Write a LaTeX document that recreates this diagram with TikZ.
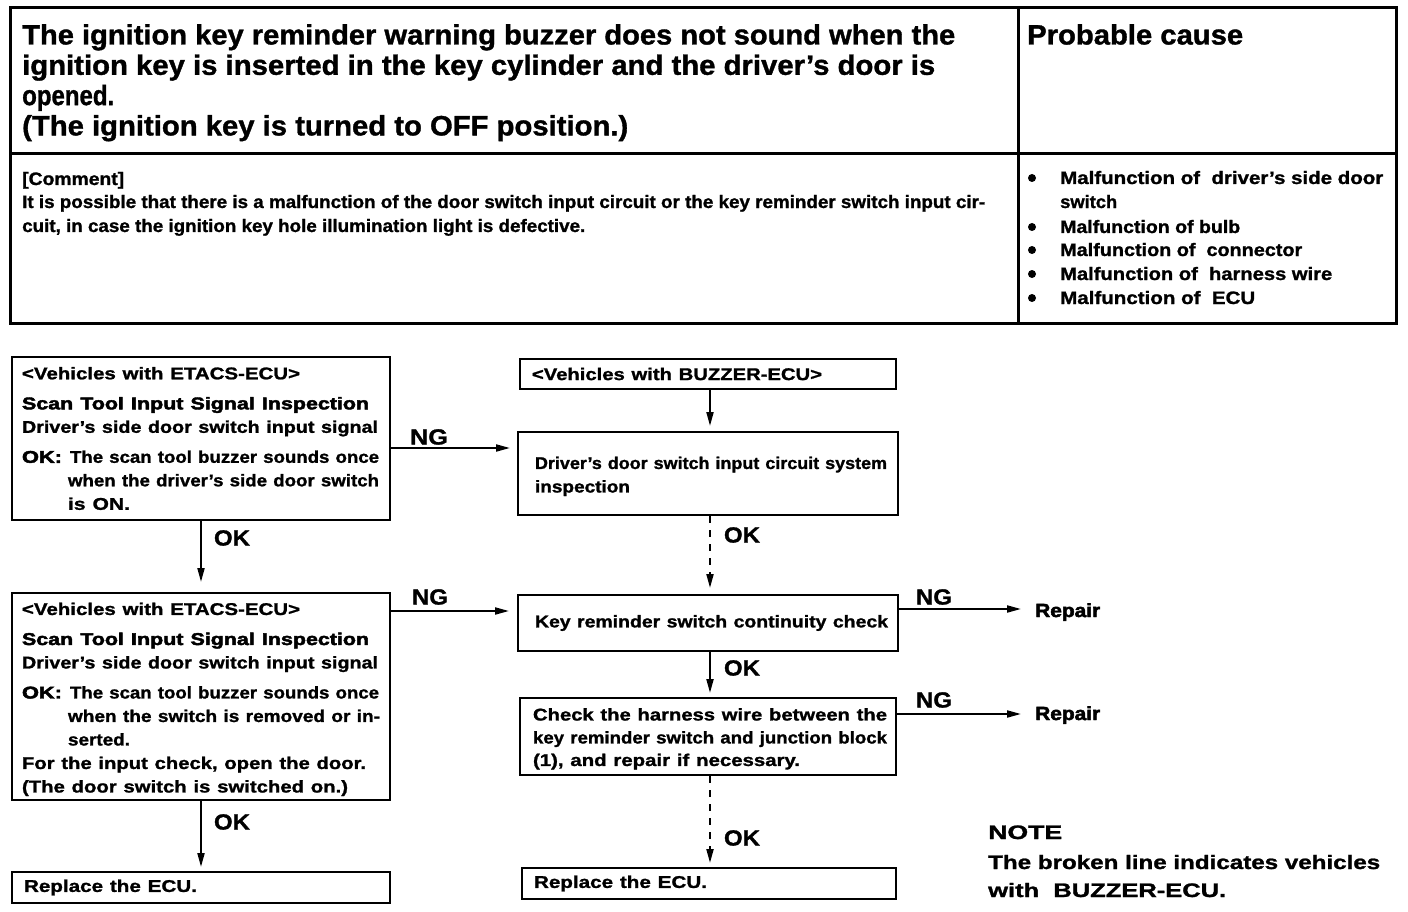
\documentclass[tikz,border=0pt]{standalone}
\usepackage{graphicx}
\usepackage{fontspec}
\setmainfont{Liberation Sans}[BoldFeatures={FakeBold=1.2}]
\newfontfamily\heavy{Liberation Sans Bold}[FakeBold=2.5]
\usetikzlibrary{arrows.meta}
\newcommand\fw[2]{\resizebox{#1pt}{\height}{#2}}
\begin{document}
\begin{tikzpicture}[x=1pt,y=-1pt,
  box/.style={draw, line width=2pt, inner ysep=0pt, align=left,
    font=\fontsize{17}{23.5}\selectfont\bfseries},
  arr/.style={line width=2pt, -{Triangle[length=14pt,width=7pt]}},
  darr/.style={arr, dash pattern=on 7pt off 7pt},
  lbl/.style={inner sep=0pt, font=\fontsize{22}{22}\selectfont\bfseries},
  ttl/.style={inner sep=0pt, anchor=base west, font=\fontsize{28}{30}\selectfont\bfseries},
  cmt/.style={inner sep=0pt, anchor=base west, font=\fontsize{18}{20}\selectfont\bfseries},
  dot/.style={fill=black},
  note/.style={inner sep=0pt, anchor=base west, font=\fontsize{19.5}{22}\selectfont\bfseries},
  rep/.style={inner sep=0pt, anchor=base west, font=\fontsize{19}{22}\selectfont\heavy}]
\useasboundingbox (0,0) rectangle (1408,912);
\fill[white] (0,0) rectangle (1408,912);
% ---------- top table ----------
\draw[line width=3pt] (10,8) rectangle (1396,323);
\draw[line width=3pt] (1018,8) -- (1018,323);
\draw[line width=3pt] (10,154) -- (1396,154);
\node[ttl] (t1) at (22,44.5) {\fw{933}{The ignition key reminder warning buzzer does not sound when the}};
\node[ttl] (t2) at (22,74.8) {\fw{913}{ignition key is inserted in the key cylinder and the driver's door is}};
\node[ttl] (t3) at (22,105.1) {\fw{92}{opened.}};
\node[ttl] (t4) at (22,135.4) {\fw{606}{(The ignition key is turned to OFF position.)}};
\node[ttl] (pc) at (1027,44.5) {\fw{216}{Probable cause}};
\node[cmt] (c1) at (22,185) {\fw{102}{[Comment]}};
\node[cmt] (c2) at (22,208) {\fw{963}{It is possible that there is a malfunction of the door switch input circuit or the key reminder switch input cir-}};
\node[cmt] (c3) at (22,232) {\fw{563}{cuit, in case the ignition key hole illumination light is defective.}};
\fill[dot] (1032,178) circle (4);
\node[cmt] (p1) at (1060,184) {\fw{323}{Malfunction of\ \ driver's side door}};
\node[cmt] (p1b) at (1060,208) {\fw{57}{switch}};
\fill[dot] (1032,227) circle (4);
\node[cmt] (p2) at (1060,233) {\fw{180}{Malfunction of bulb}};
\fill[dot] (1032,250) circle (4);
\node[cmt] (p3) at (1060,256) {\fw{242}{Malfunction of\ \ connector}};
\fill[dot] (1032,274) circle (4);
\node[cmt] (p4) at (1060,280) {\fw{272}{Malfunction of\ \ harness wire}};
\fill[dot] (1032,298) circle (4);
\node[cmt] (p5) at (1060,304) {\fw{195}{Malfunction of\ \ ECU}};
% ---------- flowchart boxes ----------
\node[box, minimum width=378pt, minimum height=163pt, inner xsep=10pt, text width=358pt] (B1) at (201,438.5) {%
\fw{278}{<Vehicles with ETACS-ECU>}\\[6.5pt]
\fw{347}{\heavy Scan Tool Input Signal Inspection}\\
\fw{356}{Driver's side door switch input signal}\\[6.5pt]
\makebox[48pt][l]{\fw{40}{\heavy OK:}}\fw{309}{The scan tool buzzer sounds once}\\
\hspace*{46pt}\fw{311}{when the driver's side door switch}\\
\hspace*{46pt}\fw{62}{is ON.}};
\node[box, minimum width=376pt, minimum height=30pt, inner xsep=12pt, text width=352pt] (B2) at (708,374) {%
\fw{290}{<Vehicles with BUZZER-ECU>}};
\node[box, minimum width=380pt, minimum height=83pt, inner xsep=17pt, text width=346pt] (B3) at (708,473.5) {%
\rule{0pt}{18pt}\fw{352}{Driver's door switch input circuit system}\\
\fw{95}{inspection}};
\node[box, minimum width=378pt, minimum height=207pt, inner xsep=10pt, text width=358pt] (B4) at (201,696.5) {%
\rule{0pt}{18pt}\fw{278}{<Vehicles with ETACS-ECU>}\\[6.5pt]
\fw{347}{\heavy Scan Tool Input Signal Inspection}\\
\fw{356}{Driver's side door switch input signal}\\[6.5pt]
\makebox[48pt][l]{\fw{40}{\heavy OK:}}\fw{309}{The scan tool buzzer sounds once}\\
\hspace*{46pt}\fw{312}{when the switch is removed or in-}\\
\hspace*{46pt}\fw{62}{serted.}\\
\fw{344}{For the input check, open the door.}\\
\fw{326}{(The door switch is switched on.)}};
\node[box, minimum width=380pt, minimum height=56pt, inner xsep=17pt, text width=346pt] (B5) at (708,623) {%
\fw{353}{Key reminder switch continuity check}};
\node[box, minimum width=376pt, minimum height=77pt, inner xsep=13pt, text width=350pt] (B6) at (708,736.5) {%
\rule{0pt}{17pt}\fw{354}{Check the harness wire between the}\\[-0.5pt]
\fw{354}{key reminder switch and junction block}\\[-1pt]
\fw{267}{(1), and repair if necessary.}};
\node[box, minimum width=378pt, minimum height=31pt, inner xsep=12pt, text width=354pt] (B7) at (201,887.5) {%
\fw{173}{Replace the ECU.}};
\node[box, minimum width=374pt, minimum height=31pt, inner xsep=12pt, text width=350pt] (B8) at (709,883.5) {%
\fw{173}{Replace the ECU.}};
% ---------- repair ----------
\node[rep] (R1) at (1035,617) {\fw{65}{Repair}};
\node[rep] (R2) at (1035,720) {\fw{65}{Repair}};
% ---------- connectors ----------
\draw[arr, shorten >=7pt] ([yshift=-9.5pt]B1.east) coordinate (n1) -- (n1 -| B3.west);
\draw[arr, shorten >=8pt] ([yshift=85.5pt]B4.east) coordinate (n2) -- (n2 -| B5.west);
\draw[arr, shorten >=10pt] (B1.south) -- (B4.north);
\draw[arr, shorten >=4pt] (B4.south) -- (B7.north);
\draw[arr, shorten >=5pt] ([xshift=2pt]B2.south) -- ([xshift=2pt]B3.north);
\draw[darr, shorten >=6pt] ([xshift=2pt]B3.south) -- ([xshift=2pt]B5.north);
\draw[arr, shorten >=4pt] ([xshift=2pt]B5.south) -- ([xshift=2pt]B6.north);
\draw[darr, shorten >=4pt] ([xshift=2pt]B6.south) -- ([xshift=1pt]B8.north);
\draw[arr, shorten >=14pt] ([yshift=14pt]B5.east) coordinate (n3) -- (n3 -| R1.west);
\draw[arr, shorten >=14pt] ([yshift=22.5pt]B6.east) coordinate (n4) -- (n4 -| R2.west);
% ---------- labels ----------
\node[lbl] (l1) at (429,437) {\fw{38}{NG}};
\node[lbl] (l2) at (430,597) {\fw{36}{NG}};
\node[lbl] (l3) at (232,538) {\fw{36}{OK}};
\node[lbl] (l4) at (232,822) {\fw{36}{OK}};
\node[lbl] (l5) at (742,535) {\fw{36}{OK}};
\node[lbl] (l6) at (742,668) {\fw{36}{OK}};
\node[lbl] (l7) at (742,838) {\fw{36}{OK}};
\node[lbl] (l8) at (934,597) {\fw{36}{NG}};
\node[lbl] (l9) at (934,700) {\fw{36}{NG}};
% ---------- note ----------
\node[note] (N1) at (988,839) {\fw{74}{NOTE}};
\node[note] (N2) at (988,869) {\fw{392}{The broken line indicates vehicles}};
\node[note] (N3) at (988,897) {\fw{238}{with\ \ BUZZER-ECU.}};
\end{tikzpicture}
\end{document}
